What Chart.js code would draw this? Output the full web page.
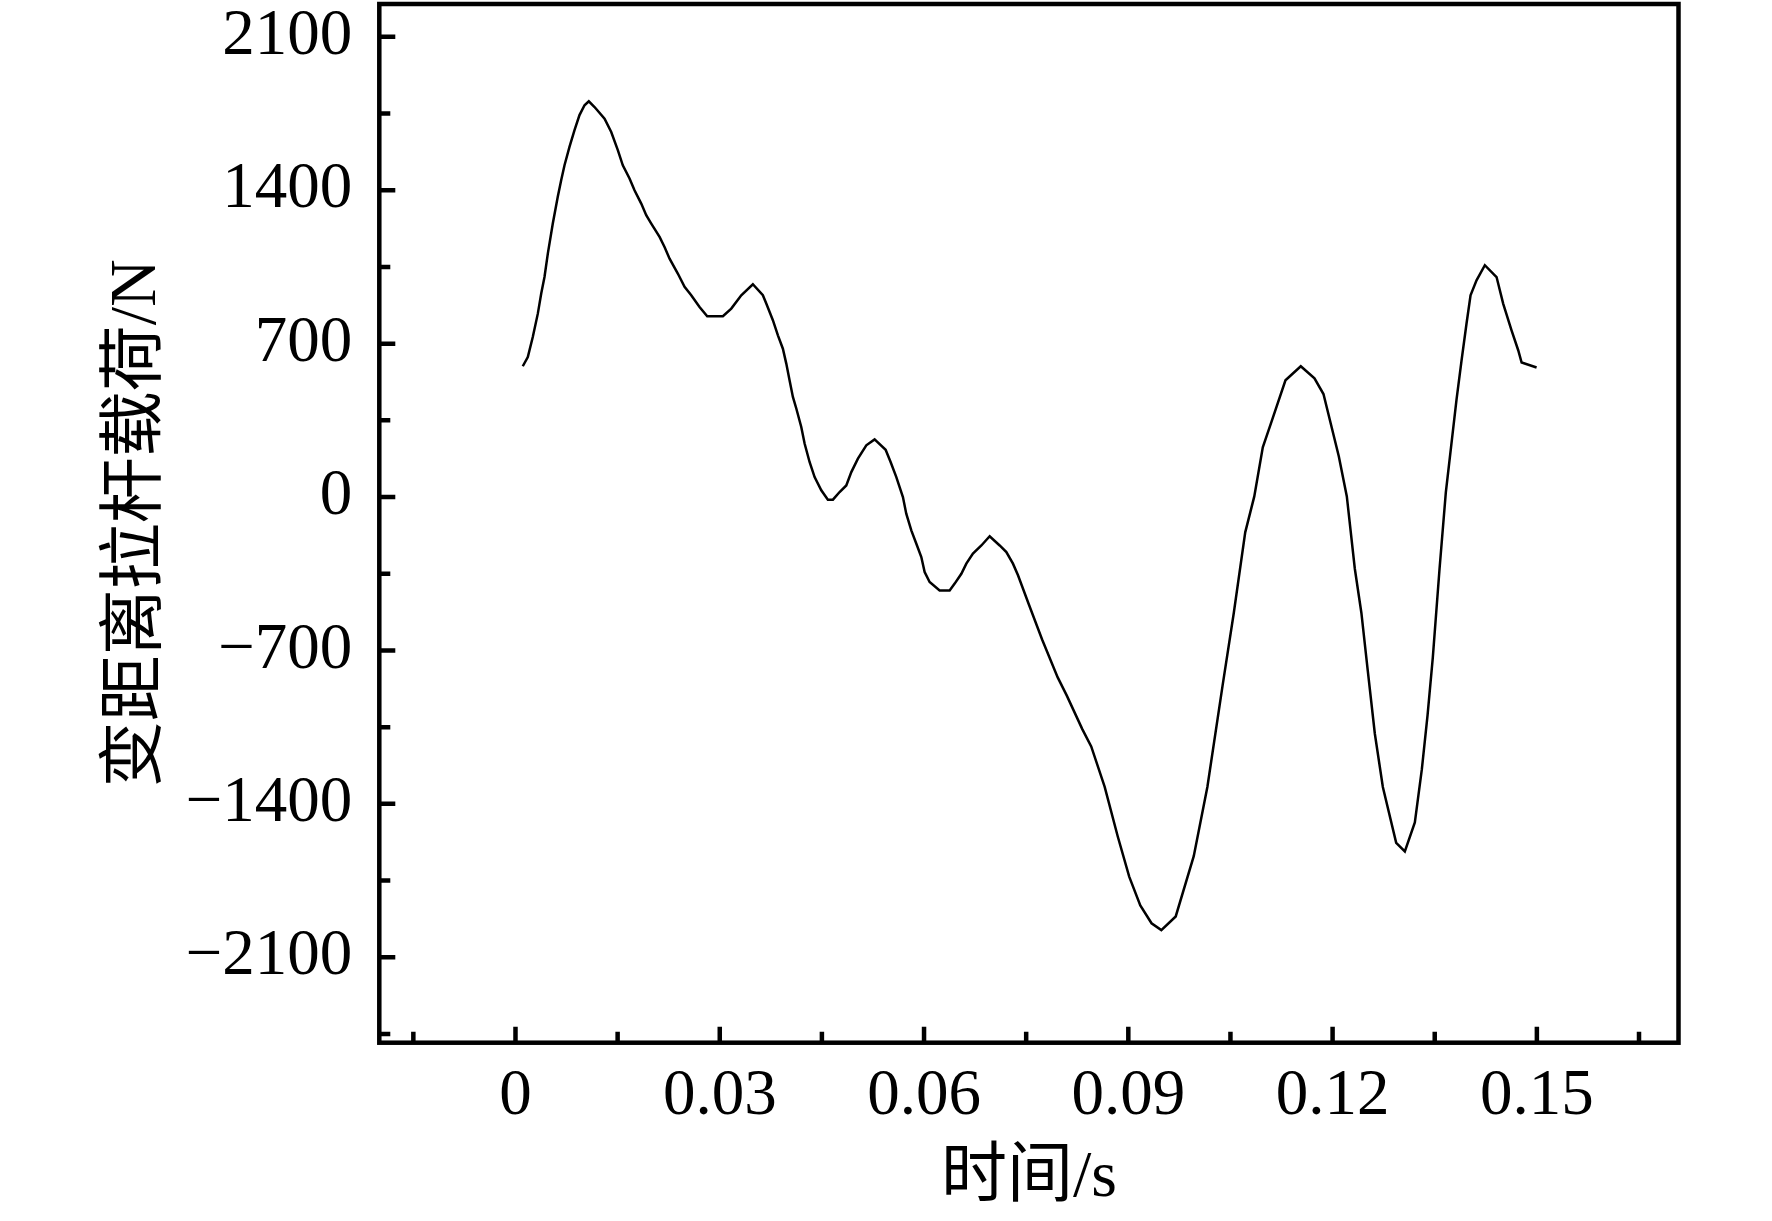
<!DOCTYPE html>
<html><head><meta charset="utf-8">
<script src="https://cdn.jsdelivr.net/npm/chart.js@4"></script>
<style>html,body{margin:0;padding:0;background:#fff}canvas{display:block}</style>
</head><body>
<canvas id="c" width="1772" height="1221"></canvas>
<script>
// ---- data ----
const timeS = [
  0.00107,0.00181,0.00254,0.00328,0.00378,0.00426,0.00475,0.00548,0.00621,0.00671,
  0.00720,0.00793,0.00867,0.00940,0.01014,0.01077,0.01161,0.01308,0.01406,0.01503,
  0.01576,0.01675,0.01748,0.01847,0.01920,0.01994,0.02116,0.02189,0.02263,0.02384,
  0.02483,0.02581,0.02703,0.02816,0.03046,0.03169,0.03316,0.03486,0.03633,0.03683,
  0.03780,0.03854,0.03927,0.03977,0.04025,0.04074,0.04124,0.04197,0.04246,0.04319,
  0.04393,0.04491,0.04588,0.04662,0.04760,0.04858,0.04932,0.05029,0.05152,0.05274,
  0.05436,0.05509,0.05593,0.05690,0.05739,0.05813,0.05887,0.05960,0.06009,0.06082,
  0.06229,0.06376,0.06450,0.06548,0.06621,0.06718,0.06842,0.06964,0.07111,0.07209,
  0.07306,0.07380,0.07537,0.07734,0.07963,0.08095,0.08324,0.08455,0.08653,0.08844,
  0.09013,0.09176,0.09341,0.09485,0.09696,0.09961,0.10161,0.10387,0.10549,0.10717,
  0.10850,0.10975,0.11107,0.11308,0.11533,0.11734,0.11866,0.12091,0.12209,0.12326,
  0.12423,0.12517,0.12620,0.12738,0.12934,0.13061,0.13208,0.13311,0.13394,0.13472,
  0.13571,0.13663,0.13820,0.13894,0.13967,0.14026,0.14114,0.14236,0.14408,0.14505,
  0.14628,0.14726,0.14776,0.14996
];
const loadN = [
  597,639,730,837,929,1004,1111,1248,1370,1446,
  1514,1598,1674,1743,1788,1806,1780,1727,1666,1583,
  1514,1454,1400,1339,1286,1248,1187,1141,1088,1020,
  959,921,867,825,825,860,921,971,921,883,
  807,738,677,609,533,457,404,320,244,160,
  91,31,-12,-12,23,53,114,175,236,263,
  216,160,91,0,-76,-152,-213,-274,-342,-388,
  -426,-426,-395,-350,-304,-258,-221,-179,-221,-251,
  -304,-357,-488,-650,-823,-905,-1059,-1138,-1323,-1548,
  -1732,-1864,-1945,-1976,-1914,-1639,-1323,-855,-529,-161,
  3,227,348,533,597,542,470,186,3,-326,
  -529,-793,-1079,-1323,-1578,-1617,-1485,-1242,-997,-732,
  -326,21,445,624,792,921,989,1058,1004,883,
  761,670,614,591
];
const xMajorTicks = [0, 0.03, 0.06, 0.09, 0.12, 0.15];
const xTickLabels = ['0', '0.03', '0.06', '0.09', '0.12', '0.15'];
const xMinorTicks = [-0.015, 0.015, 0.045, 0.075, 0.105, 0.135, 0.165];
const yMajorTicks = [-2100, -1400, -700, 0, 700, 1400, 2100];
const yTickLabels = ['\u22122100', '\u22121400', '\u2212700', '0', '700', '1400', '2100'];
const yMinorTicks = [-2450, -1750, -1050, -350, 350, 1050, 1750];
const xRange = [-0.02, 0.1708];
const yRange = [-2490, 2250];
const xTitle = '时间/s';
const yTitle = '变距离拉杆载荷/N';

const FONT = '"Liberation Serif", "Noto Sans CJK SC", serif';

const framePlugin = {
  id: 'frameTicks',
  beforeDraw(chart) {
    const ctx = chart.ctx;
    ctx.save();
    ctx.fillStyle = '#fff';
    ctx.fillRect(0, 0, chart.width, chart.height);
    ctx.restore();
  },
  afterDraw(chart) {
    const {ctx, chartArea: a, scales: {x, y}} = chart;
    ctx.save();
    ctx.strokeStyle = '#000';
    ctx.lineCap = 'butt';
    ctx.lineWidth = 4.5;
    ctx.beginPath();
    xMajorTicks.forEach(v => { const p = x.getPixelForValue(v); ctx.moveTo(p, a.bottom); ctx.lineTo(p, a.bottom - 16); });
    xMinorTicks.forEach(v => { const p = x.getPixelForValue(v); ctx.moveTo(p, a.bottom); ctx.lineTo(p, a.bottom - 11); });
    yMajorTicks.forEach(v => { const p = y.getPixelForValue(v); ctx.moveTo(a.left, p); ctx.lineTo(a.left + 16, p); });
    yMinorTicks.forEach(v => { const p = y.getPixelForValue(v); ctx.moveTo(a.left, p); ctx.lineTo(a.left + 11, p); });
    ctx.stroke();
    ctx.strokeRect(a.left, a.top, a.right - a.left, a.bottom - a.top);
    ctx.restore();
  }
};

new Chart(document.getElementById('c'), {
  type: 'line',
  data: {
    datasets: [{
      data: timeS.map((t, i) => ({x: t, y: loadN[i]})),
      borderColor: '#000',
      borderWidth: 2.5,
      pointRadius: 0,
      tension: 0,
      fill: false
    }]
  },
  options: {
    responsive: false,
    animation: false,
    devicePixelRatio: 1,
    layout: {padding: {top: 4, right: 93.5, left: 0, bottom: 0}},
    plugins: {legend: {display: false}, tooltip: {enabled: false}},
    scales: {
      x: {
        type: 'linear',
        min: xRange[0], max: xRange[1],
        afterBuildTicks: s => { s.ticks = xMajorTicks.map(v => ({value: v})); },
        afterFit: s => { s.height = 1221 - 1042.7; s.paddingLeft = 0; s.paddingRight = 0; },
        grid: {display: false, drawTicks: false},
        border: {display: false},
        ticks: {
          autoSkip: false, maxRotation: 0, padding: 15, color: '#000',
          font: {family: FONT, size: 65},
          callback: (v, i) => xTickLabels[i]
        },
        title: {display: true, text: xTitle, color: '#000', font: {family: FONT, size: 66}, padding: {top: 0, bottom: 3}}
      },
      y: {
        type: 'linear',
        min: yRange[0], max: yRange[1],
        afterBuildTicks: s => { s.ticks = yMajorTicks.map(v => ({value: v})); },
        afterFit: s => { s.width = 379.3; s.paddingTop = 0; s.paddingBottom = 0; },
        grid: {display: false, drawTicks: false},
        border: {display: false},
        ticks: {
          autoSkip: false, padding: 27, color: '#000',
          font: {family: FONT, size: 65},
          callback: (v, i) => yTickLabels[i]
        },
        title: {display: true, text: yTitle, color: '#000', font: {family: FONT, size: 66}, padding: {top: 98, bottom: 0}}
      }
    }
  },
  plugins: [framePlugin]
});
</script>
</body></html>
